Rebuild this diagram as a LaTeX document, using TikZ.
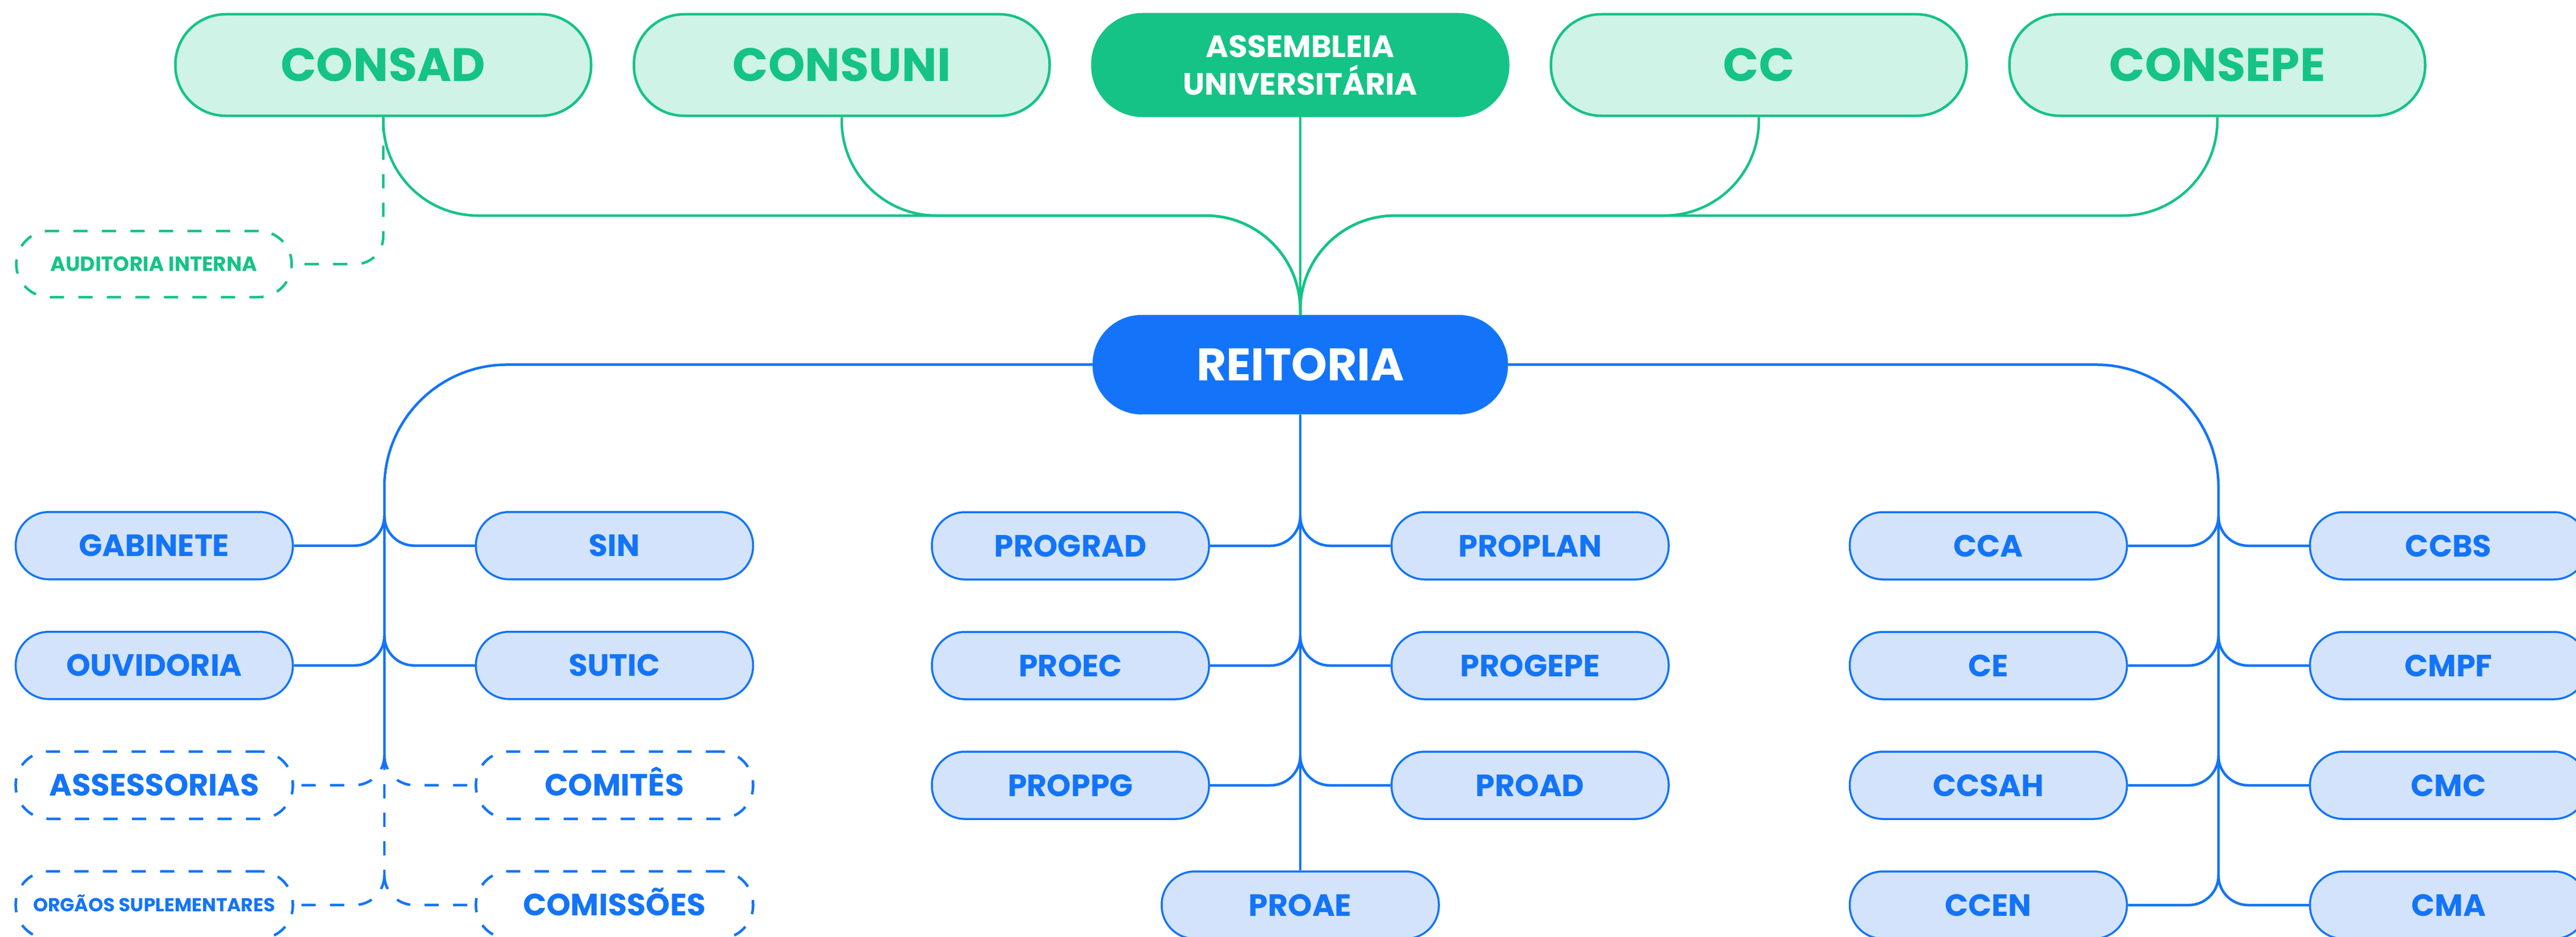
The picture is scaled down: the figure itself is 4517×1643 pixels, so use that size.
\documentclass[tikz,border=0pt]{standalone}
\usepackage{fontspec}
\setmainfont{Poppins}
\usetikzlibrary{positioning,calc,matrix}

\definecolor{ufgreen}{HTML}{15C386}
\definecolor{ufgreenlight}{HTML}{CFF3E6}
\definecolor{ufblue}{HTML}{1374F9}
\definecolor{ufbluelight}{HTML}{D3E3FB}

\begin{document}
\begin{tikzpicture}[
x=1pt, y=-1pt,
council/.style={
rectangle,
rounded corners=88pt,
minimum width=729pt,
minimum height=178pt,
line width=4.5pt,
draw=ufgreen,
fill=ufgreenlight,
text=ufgreen,
font=\bfseries\fontsize{82}{90}\selectfont,
text height=57pt,
text depth=0pt
},
assembly/.style={
council,
fill=ufgreen,
text=white,
align=center,
text height=,
font=\bfseries\fontsize{54}{66}\selectfont
},
rector/.style={
rectangle,
rounded corners=86pt,
minimum width=728pt,
minimum height=174pt,
draw=ufblue,
fill=ufblue,
text=white,
font=\bfseries\fontsize{80}{90}\selectfont,
text height=56pt,
text depth=0pt
},
unit/.style={
rectangle,
rounded corners=58pt,
minimum width=486pt,
minimum height=118pt,
line width=3.5pt,
draw=ufblue,
fill=ufbluelight,
text=ufblue,
font=\bfseries\fontsize{54}{60}\selectfont,
text height=38pt,
text depth=0pt
},
aux/.style={
unit,
fill=white,
line width=4.5pt,
dash pattern=on 25pt off 25pt
},
audit/.style={
aux,
minimum width=483pt,
minimum height=116pt,
draw=ufgreen,
text=ufgreen,
font=\bfseries\fontsize{36}{40}\selectfont,
text height=25pt
},
glink/.style={
draw=ufgreen,
line width=4.5pt
},
blink/.style={
draw=ufblue,
line width=4.5pt
},
dlink/.style={
blink,
dash pattern=on 25pt off 25pt
}]

\path[use as bounding box, fill=white] (0,0) rectangle (4517,1643);

\matrix (councils) at (2280,114) [column sep={804pt,between origins}] {
\node [council] (consad) {CONSAD}; &
\node [council] (consuni) {CONSUNI}; &
\node [assembly] (assembleia) {ASSEMBLEIA\\UNIVERSITÁRIA}; &
\node [council] (cc) {CC}; &
\node [council] (consepe) {CONSEPE}; \\
};

\node [rector, below=347pt of assembleia] (reitoria) {REITORIA};
\node [audit] (auditoria) at (270,463) {AUDITORIA INTERNA};

\matrix (lgroup) at (674,1272) [row sep={210pt,between origins}, column sep={807pt,between origins}] {
\node [unit] (gabinete) {GABINETE}; & \node [unit] (sin) {SIN}; \\
\node [unit] (ouvidoria) {OUVIDORIA}; & \node [unit] (sutic) {SUTIC}; \\
\node [aux] (assessorias) {ASSESSORIAS}; & \node [aux] (comites) {COMITÊS}; \\
\node [aux, font=\bfseries\fontsize{33}{36}\selectfont, text height=23pt] (orgaos) {ORGÃOS SUPLEMENTARES}; &
\node [aux] (comissoes) {COMISSÕES}; \\
};

\matrix (mgroup) at (2280,1272) [row sep={210pt,between origins}, column sep={403pt,between origins}] {
\node [unit] (prograd) {PROGRAD}; & & \node [unit] (proplan) {PROPLAN}; \\
\node [unit] (proec) {PROEC}; & & \node [unit] (progepe) {PROGEPE}; \\
\node [unit] (proppg) {PROPPG}; & & \node [unit] (proad) {PROAD}; \\
& \node [unit] (proae) {PROAE}; & \\
};

\matrix (rgroup) at (3890,1272) [row sep={210pt,between origins}, column sep={807pt,between origins}] {
\node [unit] (cca) {CCA}; & \node [unit] (ccbs) {CCBS}; \\
\node [unit] (ce) {CE}; & \node [unit] (cmpf) {CMPF}; \\
\node [unit] (ccsah) {CCSAH}; & \node [unit] (cmc) {CMC}; \\
\node [unit] (ccen) {CCEN}; & \node [unit] (cma) {CMA}; \\
};

% councils down to the rectorate
\coordinate (bus) at (2280,378);
\foreach \c in {consad,consuni,cc,consepe}
\draw[glink, rounded corners=166pt] (\c.south) |- (bus) -- (reitoria.north);
\draw[glink] (assembleia.south) -- (reitoria.north);
\draw[glink, dash pattern=on 25pt off 25pt, rounded corners=48pt] (consad.south) |- (auditoria.east);

% trunks
\coordinate (ltop) at ($(assessorias.east)!.5!(comites.west)+(0,-52)$);
\coordinate (lbot) at ($(orgaos.east)!.5!(comissoes.west)+(0,-52)$);
\coordinate (rbot) at ($(ccen.east)!.5!(cma.west)+(0,-52)$);

\draw[blink, rounded corners=215pt] (reitoria.west) -| (ltop);
\draw[dlink] (ltop) -- (lbot);
\draw[blink] (reitoria.south) -- (proae.north);
\draw[blink, rounded corners=215pt] (reitoria.east) -| (rbot);

% branches
\foreach \l/\r in {gabinete/sin,ouvidoria/sutic,prograd/proplan,proec/progepe,proppg/proad,cca/ccbs,ce/cmpf,ccsah/cmc,ccen/cma} {
\draw[blink, rounded corners=52pt] ($(\l.east)!.5!(\r.west)+(0,-52)$) |- (\l.east);
\draw[blink, rounded corners=52pt] ($(\l.east)!.5!(\r.west)+(0,-52)$) |- (\r.west);
}
\foreach \l/\r in {assessorias/comites,orgaos/comissoes} {
\draw[dlink, rounded corners=52pt] ($(\l.east)!.5!(\r.west)+(0,-52)$) |- (\l.east);
\draw[dlink, rounded corners=52pt] ($(\l.east)!.5!(\r.west)+(0,-52)$) |- (\r.west);
}

\end{tikzpicture}
\end{document}
